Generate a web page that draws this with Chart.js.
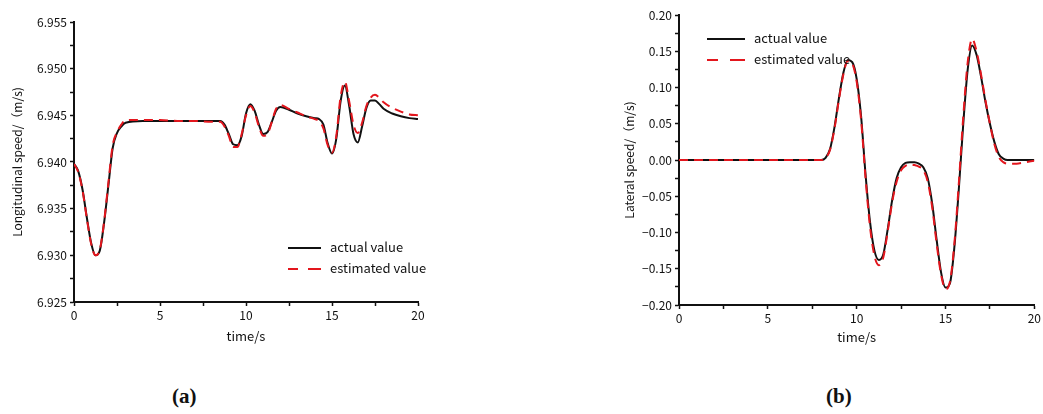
<!DOCTYPE html>
<html><head><meta charset="utf-8">
<script src="https://cdn.jsdelivr.net/npm/chart.js@4/dist/chart.umd.min.js"></script>
<style>
html,body{margin:0;padding:0;background:#fff;width:1043px;height:414px;overflow:hidden;position:relative;font-family:"Noto Sans CJK SC","Noto Sans",sans-serif;}
.cv{position:absolute;}
.leg{position:absolute;font-size:13px;color:#111;line-height:16px;}
.row{position:absolute;white-space:nowrap;}
.sw{position:absolute;height:0;}
.lab{position:absolute;font-family:"Liberation Serif","DejaVu Serif",serif;font-weight:bold;font-size:21px;color:#111;}
</style></head><body>
<div class="cv" style="left:0;top:0;width:450px;height:350px;"><canvas id="c1"></canvas></div>
<div class="cv" style="left:600px;top:0;width:443px;height:350px;"><canvas id="c2"></canvas></div>
<div id="leg1"></div><div id="leg2"></div>
<div class="lab" style="left:172px;top:384px;">(a)</div>
<div class="lab" style="left:826px;top:384px;">(b)</div>
<script>
// ---- data: chart (a) longitudinal speed ----
const timeA = [0,0.25,0.5,0.75,1.0,1.25,1.5,1.75,2.0,2.25,2.5,2.75,3.0,4,5,6,7,8,8.5,8.75,9.0,9.25,9.5,9.75,10.0,10.25,10.5,10.75,11.0,11.25,11.5,11.75,12.0,12.5,13,13.5,14,14.25,14.5,14.75,15.0,15.25,15.5,15.75,16.0,16.25,16.5,16.75,17.0,17.25,17.5,17.75,18,18.5,19,19.5,20];
const actualA = [6.9398,6.9390,6.9370,6.9340,6.9313,6.9300,6.9305,6.9335,6.9375,6.9415,6.9431,6.9438,6.9442,6.9444,6.9444,6.9444,6.9444,6.9444,6.9444,6.9440,6.9430,6.9419,6.9418,6.9428,6.9452,6.9462,6.9455,6.9440,6.9430,6.9432,6.9443,6.9455,6.9459,6.9456,6.9452,6.9449,6.9447,6.9446,6.9440,6.9420,6.9409,6.9425,6.9465,6.9482,6.9460,6.9430,6.9421,6.9438,6.9458,6.9466,6.9466,6.9462,6.9457,6.9452,6.9449,6.9447,6.9446];
const estimatedA = [6.9398,6.9389,6.9369,6.9339,6.9312,6.9300,6.9306,6.9336,6.9378,6.9418,6.9432,6.9440,6.9445,6.9445,6.9445,6.9444,6.9444,6.9443,6.9443,6.9438,6.9428,6.9416,6.9416,6.9430,6.9450,6.9460,6.9453,6.9438,6.9428,6.9430,6.9443,6.9457,6.9461,6.9457,6.9453,6.9449,6.9446,6.9444,6.9436,6.9418,6.9410,6.9428,6.9470,6.9486,6.9465,6.9440,6.9431,6.9442,6.9460,6.9469,6.9472,6.9469,6.9464,6.9458,6.9454,6.9451,6.9450];
// ---- data: chart (b) lateral speed ----
const timeB = [0,2,4,6,8,8.25,8.5,8.75,9.0,9.25,9.5,9.75,10.0,10.25,10.5,10.75,11.0,11.25,11.5,11.75,12.0,12.25,12.5,12.75,13.0,13.25,13.5,13.75,14.0,14.25,14.5,14.75,15.0,15.25,15.5,15.75,16.0,16.25,16.5,16.75,17.0,17.25,17.5,17.75,18.0,18.25,18.5,19,19.5,20];
const actualB = [0,0,0,0,0,0.003,0.015,0.045,0.085,0.120,0.138,0.135,0.112,0.060,-0.020,-0.085,-0.125,-0.138,-0.130,-0.095,-0.055,-0.025,-0.010,-0.004,-0.003,-0.003,-0.005,-0.010,-0.025,-0.060,-0.110,-0.155,-0.176,-0.170,-0.120,-0.040,0.050,0.125,0.158,0.145,0.115,0.080,0.050,0.025,0.008,0.002,0,0,0,0];
const estimatedB = [0,0,0,0,0,0.003,0.014,0.043,0.083,0.118,0.137,0.133,0.108,0.055,-0.025,-0.092,-0.132,-0.145,-0.134,-0.098,-0.058,-0.030,-0.014,-0.008,-0.006,-0.007,-0.009,-0.014,-0.030,-0.065,-0.115,-0.158,-0.178,-0.168,-0.115,-0.032,0.060,0.135,0.167,0.150,0.118,0.082,0.050,0.022,0.004,-0.003,-0.005,-0.005,-0.003,-0.001];
const seriesNames = ["actual value","estimated value"];
const xTitle = "time/s";
const yTitleA = "Longitudinal speed/（m/s)";
const yTitleB = "Lateral speed/（m/s)";

const FONT = "'Noto Sans CJK SC','Noto Sans',sans-serif";
const BLACK = "#111111", RED = "#e3161d";

function pts(t, v){ return t.map((x,i)=>({x:x,y:v[i]})); }
function isMult(v, step){ const r=v/step; return Math.abs(r-Math.round(r))<1e-6; }

function makeChart(id, t, a, e, cfg){
  return new Chart(document.getElementById(id), {
    type:'line',
    data:{datasets:[
      {label:seriesNames[1], data:pts(t,e), borderColor:RED, borderWidth:2, borderDash:[9,6], pointRadius:0, cubicInterpolationMode:'monotone', order:0},
      {label:seriesNames[0], data:pts(t,a), borderColor:BLACK, borderWidth:2, pointRadius:0, cubicInterpolationMode:'monotone', order:1}
    ]},
    options:{
      responsive:true, maintainAspectRatio:false, animation:false,
      layout:{padding:cfg.pad},
      plugins:{legend:{display:false}, tooltip:{enabled:false}},
      scales:{
        x:{type:'linear', min:0, max:20,
          border:{display:true, color:BLACK, width:2},
          grid:{display:true, drawOnChartArea:false, drawTicks:true, tickLength:4, tickColor:BLACK, tickWidth:1.5},
          ticks:{stepSize:2.5, autoSkip:false, maxRotation:0, color:'#111', padding:2, font:{family:FONT,size:12},
            callback:v=> isMult(v,5)? String(Math.round(v)) : ''},
          title:{display:true, text:xTitle, color:'#111', font:{family:FONT,size:13}, padding:{top:0,bottom:cfg.xtp}},
          afterFit:s=>{s.height=cfg.xh;}
        },
        y:{type:'linear', min:cfg.ymin, max:cfg.ymax,
          border:{display:true, color:BLACK, width:2},
          grid:{display:true, drawOnChartArea:false, drawTicks:true, tickLength:4, tickColor:BLACK, tickWidth:1.5},
          ticks:{stepSize:cfg.minor, autoSkip:false, color:'#111', padding:3, font:{family:FONT,size:12},
            callback:v=> isMult(v,cfg.major)? cfg.fmt(v) : ''},
          title:{display:true, text:cfg.ytitle, color:'#111', font:{family:FONT,size:12}, padding:{top:cfg.ytp,bottom:0}},
          afterFit:s=>{s.width=cfg.yw;}
        }
      }
    }
  });
}

makeChart('c1', timeA, actualA, estimatedA, {
  pad:{left:0,top:22,right:32,bottom:0}, xh:48, yw:74, xtp:6, ytp:10,
  ymin:6.925, ymax:6.955, minor:0.0025, major:0.005, ytitle:yTitleA,
  fmt:v=>v.toFixed(3)
});
makeChart('c2', timeB, actualB, estimatedB, {
  pad:{left:0,top:15,right:8,bottom:0}, xh:45, yw:79, xtp:5, ytp:22,
  ymin:-0.2, ymax:0.2, minor:0.025, major:0.05, ytitle:yTitleB,
  fmt:v=>{const s=Math.abs(v).toFixed(2); return (v< -1e-9?'\u2212':'')+s;}
});

function legend(id, x, y1, y2, lineW){
  const el=document.getElementById(id);
  el.className='leg';
  const dash = `<div class="sw" style="left:${x}px;top:${y2-1}px;width:${Math.round(lineW*0.3)}px;border-top:2px solid ${RED}"></div>`+
               `<div class="sw" style="left:${x+Math.round(lineW*0.6)}px;top:${y2-1}px;width:${Math.round(lineW*0.4)}px;border-top:2px solid ${RED}"></div>`;
  el.innerHTML =
    `<div class="sw" style="left:${x}px;top:${y1-1}px;width:${lineW}px;border-top:2px solid ${BLACK}"></div>`+
    `<div class="row" style="left:${x+lineW+9}px;top:${y1-9}px">${seriesNames[0]}</div>`+ dash +
    `<div class="row" style="left:${x+lineW+9}px;top:${y2-9}px">${seriesNames[1]}</div>`;
  el.style.left='0px'; el.style.top='0px';
}
legend('leg1', 288, 248, 269, 33);
legend('leg2', 707, 39, 60, 38);
</script>
</body></html>
